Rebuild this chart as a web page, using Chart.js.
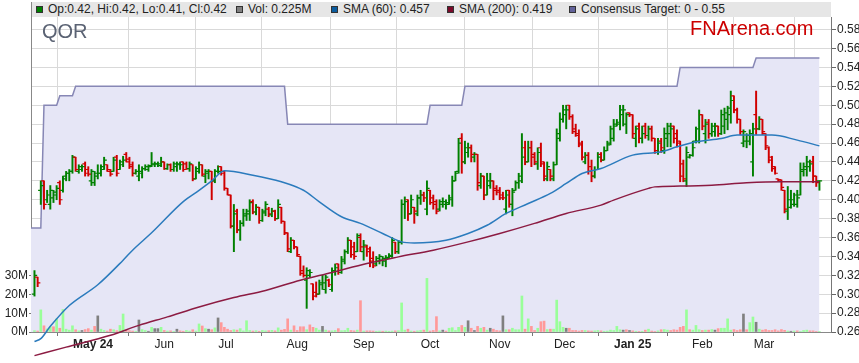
<!DOCTYPE html>
<html>
<head>
<meta charset="utf-8">
<title>QOR</title>
<script src="https://cdn.jsdelivr.net/npm/chart.js@4.4.1/dist/chart.umd.min.js"></script>
<style>
  body { margin: 0; background: #fff; font-family: Arial, "Liberation Sans", sans-serif; }
  #wrap { position: relative; width: 859px; height: 363px; }
  #legend { position: absolute; left: 31px; top: 2px; width: 800px; height: 15px; background: #e6e6e6;
            border-left: 1px solid #888; box-sizing: border-box; font-size: 12px; color: #222; }
  #legend span { position: absolute; top: 0; line-height: 15px; white-space: nowrap; }
  #legend i { position: absolute; left: -12px; top: 4px; width: 5px; height: 5px; border: 1px solid #333; }
  .code { position: absolute; left: 42px; top: 20px; font-size: 20px; color: #5a6273; }
  .brand { position: absolute; left: 690px; top: 17px; font-size: 20px; color: #cc0000; }
</style>
</head>
<body>
<div id="wrap">
  <canvas id="c"></canvas>
  <div id="legend">
    <span id="lgOhlc" style="left:16px"><i style="background:#008000"></i></span>
    <span id="lgVol" style="left:216px"><i style="background:#808080"></i></span>
    <span id="lgSma60" style="left:311px"><i style="background:#0b5c9e"></i></span>
    <span id="lgSma200" style="left:427px"><i style="background:#7a0a2a"></i></span>
    <span id="lgTarget" style="left:549px"><i style="background:#62629a"></i></span>
  </div>
  <div class="code">QOR</div>
  <div class="brand">FNArena.com</div>
</div>
<script>
// daily bars, one per trading day (index 0 = early Apr 2024, last = late Mar 2025)
const openPx = [
  0.300,0.318,0.410,0.420,0.400,0.395,0.402,0.405,0.418,0.410,
  0.425,0.428,0.430,0.445,0.430,0.432,0.438,0.432,0.420,0.418,
  0.425,0.428,0.432,0.437,0.432,0.430,0.445,0.432,0.437,0.448,
  0.443,0.437,0.428,0.425,0.428,0.433,0.432,0.436,0.437,0.438,
  0.436,0.440,0.433,0.437,0.432,0.435,0.437,0.440,0.438,0.433,
  0.437,0.422,0.430,0.437,0.425,0.428,0.430,0.420,0.430,0.435,
  0.430,0.412,0.405,0.372,0.388,0.368,0.375,0.383,0.385,0.398,
  0.387,0.392,0.378,0.386,0.390,0.384,0.388,0.380,0.392,0.377,
  0.365,0.345,0.357,0.350,0.340,0.325,0.315,0.320,0.311,0.302,
  0.300,0.310,0.305,0.315,0.305,0.325,0.332,0.323,0.335,0.345,
  0.357,0.350,0.345,0.360,0.345,0.350,0.345,0.338,0.332,0.335,
  0.336,0.335,0.338,0.340,0.355,0.345,0.355,0.395,0.400,0.385,
  0.392,0.385,0.402,0.405,0.390,0.410,0.402,0.398,0.390,0.395,
  0.395,0.395,0.400,0.420,0.430,0.465,0.440,0.450,0.455,0.445,
  0.448,0.415,0.425,0.405,0.415,0.420,0.412,0.410,0.405,0.390,
  0.410,0.395,0.410,0.418,0.420,0.455,0.440,0.455,0.448,0.438,
  0.455,0.440,0.422,0.432,0.422,0.437,0.465,0.485,0.490,0.500,
  0.488,0.475,0.468,0.458,0.440,0.447,0.435,0.425,0.432,0.448,
  0.442,0.452,0.460,0.465,0.478,0.480,0.490,0.480,0.492,0.490,
  0.465,0.478,0.465,0.478,0.468,0.475,0.465,0.450,0.462,0.452,
  0.465,0.470,0.478,0.470,0.462,0.438,0.420,0.445,0.447,0.462,
  0.462,0.490,0.470,0.482,0.470,0.472,0.478,0.470,0.478,0.485,
  0.490,0.510,0.495,0.485,0.460,0.462,0.462,0.440,0.490,0.475,
  0.485,0.470,0.455,0.445,0.435,0.422,0.421,0.410,0.388,0.392,
  0.395,0.395,0.405,0.430,0.432,0.435,0.440,0.425,0.420
];
const highPx = [
  0.325,0.318,0.420,0.420,0.410,0.415,0.410,0.415,0.420,0.425,
  0.430,0.432,0.447,0.445,0.437,0.437,0.440,0.435,0.432,0.430,
  0.437,0.437,0.445,0.437,0.432,0.445,0.447,0.442,0.446,0.450,
  0.445,0.440,0.432,0.437,0.435,0.437,0.437,0.450,0.440,0.440,
  0.445,0.440,0.438,0.438,0.440,0.440,0.440,0.440,0.440,0.440,
  0.437,0.435,0.440,0.437,0.432,0.432,0.430,0.432,0.436,0.435,
  0.430,0.412,0.405,0.395,0.390,0.378,0.390,0.390,0.400,0.400,
  0.395,0.392,0.390,0.398,0.392,0.391,0.389,0.400,0.392,0.377,
  0.365,0.360,0.357,0.350,0.340,0.330,0.328,0.326,0.311,0.313,
  0.315,0.320,0.320,0.316,0.328,0.332,0.332,0.340,0.347,0.360,
  0.357,0.355,0.364,0.364,0.357,0.352,0.350,0.345,0.340,0.342,
  0.340,0.341,0.343,0.360,0.355,0.357,0.400,0.403,0.400,0.405,
  0.392,0.405,0.410,0.408,0.420,0.410,0.405,0.400,0.400,0.402,
  0.400,0.405,0.425,0.430,0.465,0.470,0.462,0.460,0.458,0.450,
  0.448,0.428,0.425,0.428,0.428,0.420,0.415,0.413,0.408,0.410,
  0.410,0.412,0.420,0.428,0.470,0.462,0.462,0.462,0.450,0.455,
  0.460,0.440,0.440,0.432,0.440,0.475,0.492,0.500,0.500,0.500,
  0.490,0.480,0.474,0.462,0.450,0.450,0.442,0.435,0.450,0.450,
  0.456,0.462,0.478,0.485,0.485,0.500,0.500,0.492,0.492,0.490,
  0.478,0.481,0.478,0.481,0.478,0.478,0.465,0.465,0.465,0.476,
  0.481,0.481,0.478,0.474,0.462,0.442,0.456,0.448,0.462,0.477,
  0.495,0.490,0.485,0.485,0.481,0.481,0.478,0.495,0.497,0.499,
  0.515,0.510,0.497,0.485,0.474,0.470,0.474,0.481,0.515,0.488,
  0.485,0.470,0.456,0.446,0.435,0.422,0.421,0.410,0.414,0.410,
  0.407,0.410,0.439,0.439,0.446,0.442,0.446,0.425,0.420
];
const lowPx = [
  0.298,0.308,0.395,0.390,0.397,0.390,0.397,0.400,0.395,0.408,
  0.420,0.420,0.428,0.430,0.428,0.430,0.425,0.425,0.415,0.415,
  0.422,0.425,0.432,0.430,0.425,0.430,0.425,0.432,0.435,0.440,
  0.433,0.425,0.427,0.420,0.423,0.431,0.430,0.435,0.435,0.435,
  0.435,0.432,0.432,0.430,0.430,0.430,0.432,0.430,0.432,0.430,
  0.420,0.422,0.428,0.425,0.418,0.422,0.400,0.418,0.428,0.426,
  0.410,0.405,0.370,0.345,0.365,0.357,0.372,0.378,0.378,0.385,
  0.384,0.375,0.377,0.383,0.382,0.382,0.378,0.380,0.375,0.363,
  0.345,0.344,0.348,0.340,0.320,0.318,0.285,0.318,0.294,0.297,
  0.300,0.305,0.301,0.308,0.303,0.320,0.321,0.322,0.332,0.343,
  0.339,0.337,0.345,0.345,0.336,0.340,0.329,0.328,0.330,0.332,
  0.330,0.329,0.338,0.339,0.343,0.343,0.353,0.380,0.378,0.385,
  0.375,0.383,0.395,0.398,0.384,0.395,0.390,0.385,0.388,0.392,
  0.390,0.395,0.393,0.420,0.428,0.428,0.438,0.445,0.440,0.440,
  0.410,0.412,0.400,0.405,0.412,0.400,0.405,0.400,0.400,0.385,
  0.392,0.383,0.410,0.412,0.418,0.437,0.440,0.435,0.437,0.432,
  0.435,0.420,0.420,0.420,0.420,0.437,0.462,0.482,0.475,0.485,
  0.470,0.467,0.456,0.442,0.438,0.427,0.419,0.423,0.432,0.440,
  0.442,0.452,0.458,0.462,0.478,0.474,0.478,0.470,0.488,0.465,
  0.456,0.460,0.460,0.465,0.463,0.462,0.449,0.448,0.450,0.449,
  0.456,0.456,0.460,0.456,0.419,0.419,0.414,0.444,0.446,0.460,
  0.460,0.474,0.460,0.465,0.467,0.467,0.467,0.469,0.470,0.474,
  0.481,0.492,0.481,0.469,0.456,0.455,0.458,0.425,0.469,0.474,
  0.469,0.453,0.439,0.430,0.427,0.420,0.410,0.386,0.379,0.391,
  0.393,0.392,0.405,0.425,0.425,0.430,0.418,0.414,0.410
];
const closePx = [
  0.320,0.312,0.415,0.395,0.405,0.410,0.408,0.412,0.400,0.422,
  0.428,0.430,0.445,0.432,0.435,0.435,0.428,0.427,0.430,0.428,
  0.428,0.435,0.442,0.430,0.427,0.442,0.428,0.440,0.442,0.440,
  0.435,0.428,0.430,0.430,0.433,0.435,0.435,0.438,0.438,0.438,
  0.440,0.433,0.437,0.432,0.438,0.438,0.437,0.432,0.433,0.438,
  0.422,0.433,0.437,0.427,0.430,0.430,0.420,0.430,0.430,0.428,
  0.412,0.405,0.372,0.385,0.368,0.375,0.385,0.388,0.397,0.387,
  0.392,0.378,0.388,0.395,0.385,0.388,0.380,0.395,0.377,0.365,
  0.348,0.357,0.350,0.342,0.322,0.320,0.325,0.323,0.298,0.300,
  0.312,0.312,0.318,0.310,0.325,0.328,0.323,0.337,0.345,0.357,
  0.342,0.340,0.362,0.350,0.352,0.348,0.335,0.330,0.338,0.340,
  0.338,0.339,0.341,0.357,0.345,0.355,0.395,0.398,0.385,0.400,
  0.388,0.402,0.405,0.402,0.412,0.397,0.395,0.388,0.398,0.398,
  0.397,0.402,0.420,0.428,0.460,0.440,0.455,0.455,0.448,0.448,
  0.418,0.425,0.405,0.420,0.420,0.410,0.408,0.402,0.402,0.405,
  0.395,0.408,0.418,0.425,0.445,0.440,0.455,0.445,0.440,0.450,
  0.438,0.425,0.435,0.425,0.437,0.470,0.485,0.495,0.495,0.488,
  0.472,0.470,0.460,0.445,0.447,0.430,0.425,0.432,0.445,0.442,
  0.452,0.458,0.475,0.480,0.482,0.495,0.495,0.490,0.490,0.470,
  0.475,0.465,0.470,0.468,0.475,0.465,0.452,0.460,0.455,0.470,
  0.478,0.475,0.465,0.460,0.425,0.422,0.450,0.447,0.455,0.475,
  0.490,0.478,0.480,0.470,0.478,0.478,0.470,0.490,0.492,0.497,
  0.505,0.495,0.485,0.472,0.472,0.468,0.470,0.475,0.475,0.485,
  0.472,0.457,0.442,0.433,0.428,0.421,0.413,0.390,0.400,0.400,
  0.405,0.402,0.432,0.435,0.440,0.438,0.425,0.418,0.420
];
// daily volume, millions of shares
const volumeM = [
  0.7,0.5,11.8,3.3,1.6,2.8,2.8,7.0,2.0,12.0,
  1.5,1.0,3.3,1.2,0.6,0.8,1.3,1.8,1.0,3.0,
  8.6,1.5,0.8,0.5,1.5,1.2,0.7,3.5,9.6,1.0,
  0.7,0.5,0.4,6.4,1.3,0.8,0.4,2.5,1.8,1.8,
  2.5,0.8,0.5,0.6,0.3,1.5,0.6,0.4,0.8,0.5,
  1.2,0.5,4.3,3.2,1.8,1.5,1.2,2.2,7.5,5.0,
  2.5,1.5,0.8,1.2,1.0,1.8,0.6,6.0,0.8,0.5,
  0.7,0.4,0.8,0.6,0.7,0.9,0.6,2.2,1.0,1.4,
  7.0,1.0,3.3,0.8,2.8,2.8,1.2,3.8,2.5,2.0,
  1.0,3.0,1.0,0.6,0.6,0.8,1.8,0.7,0.8,2.0,
  0.8,0.6,1.0,16.7,0.5,0.6,0.6,0.5,0.4,0.5,
  0.4,0.5,0.4,0.5,0.6,0.7,15.5,1.0,1.5,0.5,
  0.4,0.6,0.8,1.0,28.6,0.5,0.8,8.2,0.6,1.0,
  0.5,2.0,2.3,0.8,2.5,3.5,2.5,6.0,2.0,0.8,
  3.0,2.0,2.5,1.0,2.0,1.5,0.8,0.6,8.6,1.2,
  1.2,2.0,1.2,1.2,19.2,1.5,7.0,3.0,0.8,2.0,
  5.5,5.8,1.3,1.5,1.5,17.0,5.5,2.5,2.0,2.0,
  0.8,0.8,0.5,0.8,0.8,0.6,0.5,0.6,0.8,0.6,
  0.4,0.5,1.0,0.8,3.0,1.2,1.0,1.2,0.8,0.6,
  0.4,0.3,0.4,1.0,1.5,0.5,0.3,0.6,1.2,1.3,
  1.0,0.8,1.2,1.0,2.5,3.0,11.8,1.2,1.0,3.5,
  1.2,0.8,1.0,1.0,1.3,1.0,1.8,2.0,2.0,7.0,
  1.0,1.3,0.8,1.2,9.6,1.2,5.0,8.0,5.2,1.5,
  1.0,1.3,0.8,0.8,1.2,0.6,1.3,0.9,0.5,0.4,
  0.5,0.6,0.3,0.8,1.0,0.6,0.6,0.3,0.225
];

// moving averages at these bar indexes
const sma60Idx = [0,2,5,11,20,28,31,37,47,52,56,60,69,78,85,90,97,103,110,116,120,130,137,143,149,156,163,168,173,179,189,198,203,209,217,222,227,233,241,248];
const sma60 = [0.250,0.253,0.266,0.288,0.310,0.336,0.3466,0.365,0.398,0.410,0.420,0.4306,0.426,0.419,0.410,0.3978,0.382,0.375,0.3643,0.3554,0.3543,0.3572,0.3643,0.373,0.3855,0.396,0.4067,0.4172,0.4278,0.4331,0.4472,0.4507,0.456,0.4613,0.4649,0.4684,0.4684,0.4684,0.4631,0.457];
const sma200Idx = [0,10,24,33,42,52,63,73,84,94,105,115,126,137,147,158,168,179,183,194,196,204,214,225,236,248];
const sma200 = [0.235,0.244,0.2565,0.267,0.276,0.2865,0.2965,0.304,0.3148,0.323,0.3325,0.3395,0.3466,0.3554,0.3643,0.375,0.3855,0.3943,0.3996,0.412,0.4136,0.4144,0.4154,0.4179,0.419,0.419];

// consensus target steps
const targetIdx = [-1.1,2,3,7,8,12,13,79,80,124,125,135,136,203,204,227,228,248];
const targetVal = [0.37,0.37,0.50,0.50,0.51,0.51,0.52,0.52,0.48,0.48,0.50,0.50,0.52,0.52,0.54,0.54,0.55,0.55];
const targetLow = 0;

// axis labels
const monthLabels = ['May 24','Jun','Jul','Aug','Sep','Oct','Nov','Dec','Jan 25','Feb','Mar'];
const monthPos = [18.5,41,60.5,83,104,125,147,167.5,189,211,230.5];
const priceTicks = [0.26,0.28,0.30,0.32,0.34,0.36,0.38,0.40,0.42,0.44,0.46,0.48,0.50,0.52,0.54,0.56,0.58];
const volTicks = [0,10,20,30];

const UP = '#008000', DOWN = '#d00000';
const VOL_UP = '#99ff99', VOL_DOWN = '#ff9999', VOL_FLAT = '#808080';
const FONT = 'Arial, "Liberation Sans", sans-serif';

const last = closePx.length - 1;
const barColors = closePx.map((c, i) => c >= openPx[i] ? UP : DOWN);
const volColors = closePx.map((c, i) => {
  const prev = i ? closePx[i - 1] : openPx[i];
  return c > prev ? VOL_UP : (c < prev ? VOL_DOWN : VOL_FLAT);
});

// legend text
const f2 = v => v.toFixed(2);
document.getElementById('lgOhlc').append(`Op:${f2(openPx[last])}, Hi:${f2(highPx[last])}, Lo:${f2(lowPx[last])}, Cl:${f2(closePx[last])}`);
document.getElementById('lgVol').append(`Vol: ${volumeM[last]}M`);
document.getElementById('lgSma60').append(`SMA (60): ${sma60[sma60.length - 1].toFixed(3)}`);
document.getElementById('lgSma200').append(`SMA (200): ${sma200[sma200.length - 1].toFixed(3)}`);
document.getElementById('lgTarget').append(`Consensus Target: ${targetLow} - ${f2(targetVal[targetVal.length - 1])}`);

// open / close ticks drawn right after the high-low bars
const ocTicks = {
  id: 'ocTicks',
  afterDatasetDraw(chart, args) {
    if (chart.data.datasets[args.index].label !== 'hilo') return;
    const xs = chart.scales.x, ys = chart.scales.price, ctx = chart.ctx;
    ctx.save();
    ctx.lineWidth = 1.2;
    openPx.forEach((o, i) => {
      const x = xs.getPixelForValue(i);
      const yo = ys.getPixelForValue(o), yc = ys.getPixelForValue(closePx[i]);
      ctx.strokeStyle = barColors[i];
      ctx.beginPath();
      ctx.moveTo(x - 2.7, yo); ctx.lineTo(x, yo);
      ctx.moveTo(x, yc); ctx.lineTo(x + 2.7, yc);
      ctx.stroke();
    });
    ctx.restore();
  }
};

Chart.defaults.font.family = FONT;
Chart.defaults.font.size = 12;
Chart.defaults.color = '#222';

new Chart(document.getElementById('c'), {
  type: 'bar',
  data: {
    datasets: [
      {
        type: 'line', label: 'target', yAxisID: 'price', order: 10,
        data: targetIdx.map((x, k) => ({ x, y: targetVal[k] })),
        borderColor: '#8787b5', borderWidth: 1.5, backgroundColor: '#e6e6f6',
        fill: 'start', pointRadius: 0, tension: 0
      },
      {
        label: 'volume', yAxisID: 'vol', order: 8, grouped: false,
        data: volumeM.map((v, i) => ({ x: i, y: v })),
        backgroundColor: volColors, barThickness: 2
      },
      {
        label: 'hilo', yAxisID: 'price', order: 5, grouped: false,
        data: lowPx.map((l, i) => ({ x: i, y: [l, highPx[i]] })),
        backgroundColor: barColors, barThickness: 1.3
      },
      {
        type: 'line', label: 'sma200', yAxisID: 'price', order: 2,
        data: sma200Idx.map((x, k) => ({ x, y: sma200[k] })),
        borderColor: '#8c1b42', borderWidth: 1.5, pointRadius: 0,
        cubicInterpolationMode: 'monotone', clip: { left: 4, top: 0, right: 0, bottom: 40 }
      },
      {
        type: 'line', label: 'sma60', yAxisID: 'price', order: 1,
        data: sma60Idx.map((x, k) => ({ x, y: sma60[k] })),
        borderColor: '#2b7bbd', borderWidth: 1.5, pointRadius: 0,
        cubicInterpolationMode: 'monotone', clip: { left: 4, top: 0, right: 0, bottom: 40 }
      }
    ]
  },
  options: {
    responsive: true,
    maintainAspectRatio: false,
    animation: false,
    layout: { padding: { top: 17, left: 0, right: 0, bottom: 0 } },
    plugins: { legend: { display: false }, tooltip: { enabled: false } },
    scales: {
      x: {
        type: 'linear', min: -1.1, max: 251.66, offset: false,
        afterBuildTicks: s => { s.ticks = monthPos.map(v => ({ value: v })); },
        afterFit: s => { s.height = 31; },
        ticks: {
          autoSkip: false, maxRotation: 0, padding: 1, color: '#222',
          callback: (v, i) => monthLabels[i],
          font: c => ({ family: FONT, size: 12, weight: /\d/.test(monthLabels[c.index] || '') ? 'bold' : 'normal' })
        },
        grid: { color: '#d9d9d9', tickLength: 4, tickColor: '#777' },
        border: { color: '#888' }
      },
      price: {
        type: 'linear', position: 'right', min: 0.26, max: 0.5934,
        afterBuildTicks: s => { s.ticks = priceTicks.map(v => ({ value: v })); },
        afterFit: s => { s.width = 28; },
        ticks: { padding: 1, color: '#222', callback: v => v.toFixed(2) },
        grid: { color: '#d9d9d9', tickLength: 5, tickColor: '#666' },
        border: { color: '#777' }
      },
      vol: {
        type: 'linear', position: 'left', min: 0, max: 168,
        afterBuildTicks: s => { s.ticks = volTicks.map(v => ({ value: v })); },
        afterFit: s => { s.width = 31; },
        ticks: { padding: 1, color: '#222', callback: v => v + 'M' },
        grid: { drawOnChartArea: false, tickLength: 2, tickColor: '#777' },
        border: { color: '#888' }
      }
    }
  },
  plugins: [ocTicks]
});
</script>
</body>
</html>
